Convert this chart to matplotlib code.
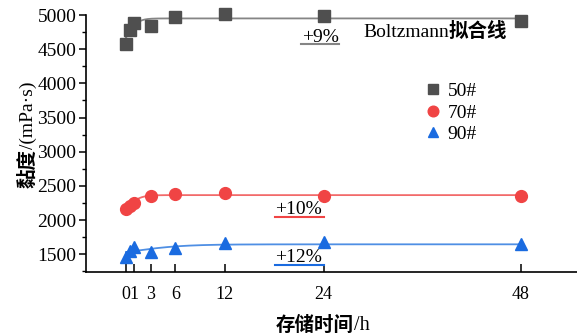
import matplotlib
matplotlib.use('Agg')
import matplotlib.pyplot as plt
import numpy as np

# Данные: время хранения (ч) и вязкость (мПа·с)
t = [0, 0.5, 1, 3, 6, 12, 24, 48]
v50 = [4575, 4780, 4880, 4840, 4975, 5010, 4990, 4915]
v70 = [2160, 2205, 2250, 2355, 2380, 2395, 2355, 2350]
v90 = [1465, 1540, 1600, 1530, 1595, 1660, 1685, 1645]

xticks = [0, 1, 3, 6, 12, 24, 48]
xticklabels = ['0', '1', '3', '6', '12', '24', '48']
labels = ['50#', '70#', '90#']

# Параметры кривых Больцмана (A1, A2, x0, dx)
fit50 = (4500, 4950, 0.3, 0.6)
fit70 = (2100, 2365, 0.5, 0.7)
fit90 = (1450, 1645, 1.0, 3.0)

mk_colors = ['#4f4f4f', '#f04444', '#1a6be0']
ln_colors = ['#858585', '#f26a6a', '#4f8fe4']
markers = ['s', 'o', '^']

serif = ['Liberation Serif', 'Noto Sans CJK SC']
cjk = ['Noto Sans CJK SC']
FS = 14


def boltzmann(x, a1, a2, x0, dx):
    return a2 + (a1 - a2) / (1 + np.exp((x - x0) / dx))


W, H = 577, 336
fig = plt.figure(figsize=(W / 100, H / 100), dpi=100)
ax = fig.add_axes([86 / W, 1 - 272 / H, 1 - 86 / W, (272 - 15) / H])

xx = np.linspace(0, 48, 400)
for vals, fit, mc, lc, m, lab in zip([v50, v70, v90], [fit50, fit70, fit90],
                                     mk_colors, ln_colors, markers, labels):
    ax.plot(xx, boltzmann(xx, *fit), color=lc, lw=1.3, zorder=2)
    ax.plot(t, vals, linestyle='none', marker=m, color=mc, markersize=8.5,
            label=lab, zorder=3, clip_on=False)

ax.set_xlim(-4.86, 54.8)
ax.set_ylim(1240, 5000)

ax.spines['top'].set_visible(False)
ax.spines['right'].set_visible(False)
for s in ['left', 'bottom']:
    ax.spines[s].set_linewidth(1.2)

ax.set_xticks(xticks)
ax.set_xticklabels(xticklabels, family=serif, fontsize=13)
ax.set_yticks([1500, 2000, 2500, 3000, 3500, 4000, 4500, 5000])
ax.set_yticks(np.arange(1250, 5000, 250), minor=True)
for lab in ax.get_yticklabels():
    lab.set_family(serif)
    lab.set_fontsize(FS)
ax.tick_params(axis='x', direction='in', length=6, width=1.1, pad=10)
ax.tick_params(axis='y', which='major', direction='out', length=5, width=1.1, pad=2)
ax.tick_params(axis='y', which='minor', direction='out', length=3, width=1.0)

# Подписи осей: китайская часть жирная, остальное — Times
xl = fig.text(354 / W, 1 - 331 / H, '存储时间', family=cjk, weight='bold',
              fontsize=14, ha='right', va='baseline')
ax.annotate('/h', xy=(1, 0), xycoords=xl, family=serif, fontsize=FS + 0.5,
            ha='left', va='bottom')
yl = fig.text(28 / W, 1 - 188 / H, '黏度', family=cjk, weight='bold',
              fontsize=14, rotation=90, ha='center', va='bottom')
ax.annotate('/(mPa·s)', xy=(0.5, 1), xycoords=yl, family=serif, fontsize=FS,
            rotation=90, ha='center', va='bottom')

# Аннотации прироста вязкости
ax.text(21.4, 4610, '+9%', family=serif, fontsize=FS, va='baseline')
ax.plot([21.3, 25.9], [4572, 4572], color=ln_colors[0], lw=1.5)
ax.text(18.1, 2090, '+10%', family=serif, fontsize=FS, va='baseline')
ax.plot([18.1, 24.0], [2044, 2044], color=mk_colors[1], lw=1.5)
ax.text(18.1, 1385, '+12%', family=serif, fontsize=FS, va='baseline')
ax.plot([18.1, 24.0], [1338, 1338], color=mk_colors[2], lw=1.5)

bt = ax.text(28.8, 4680, 'Boltzmann', family=serif, fontsize=FS, va='baseline')
ax.annotate('拟合线', xy=(1, 0), xycoords=bt, family=cjk, weight='bold',
            fontsize=14, ha='left', va='bottom')

leg = ax.legend(loc='upper left', bbox_to_anchor=(406 / W, 1 - 65 / H),
                bbox_transform=fig.transFigure, frameon=False,
                prop={'family': serif, 'size': FS}, handlelength=1.0,
                handletextpad=0.25, labelspacing=0.2, markerscale=0.9)

fig.savefig('out.png', dpi=100)
